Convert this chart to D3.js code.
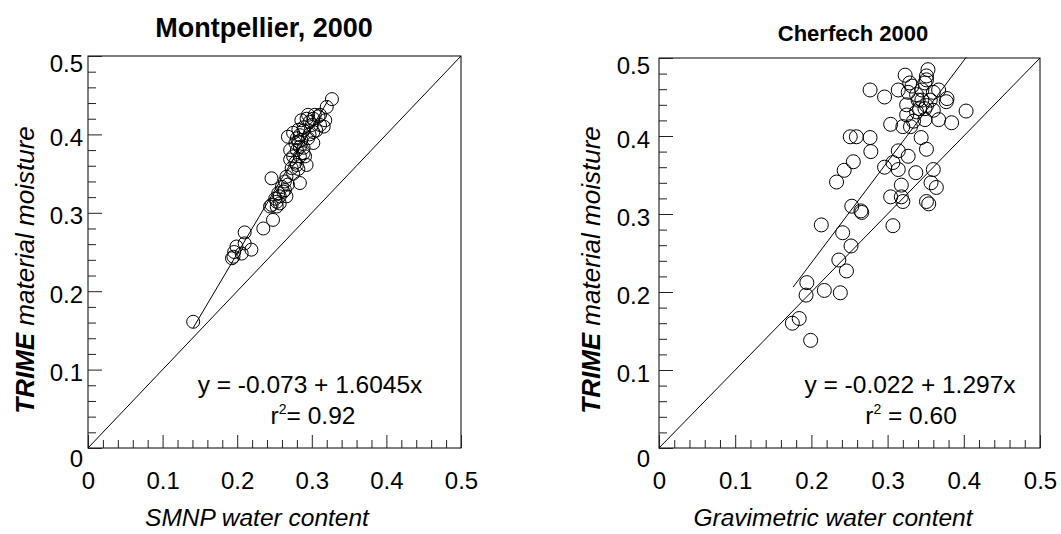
<!DOCTYPE html>
<html lang='en'>
	<head>
		<meta charset='utf-8'>
		<title>TRIME vs water content</title>
		<script type='text/javascript' src='https://d3js.org/d3.v7.min.js'></script>
		<style type='text/css'>
			body {
				margin: 0;
				background-color: white;
			}
			svg text {
				font-family: 'Liberation Sans', Arial, sans-serif;
				fill: black;
			}
		</style>
	</head>
	<body>
		<script type='text/javascript'>
			// Montpellier, 2000 : SMNP water content vs TRIME moisture
			var montX = [0.141, 0.193, 0.196, 0.199, 0.210, 0.210, 0.219, 0.206, 0.195, 0.235, 0.248, 0.246,
				0.253, 0.257, 0.262, 0.260, 0.266, 0.246, 0.264, 0.284, 0.275, 0.273, 0.280, 0.284, 0.280,
				0.289, 0.268, 0.275, 0.282, 0.286, 0.293, 0.302, 0.309, 0.316, 0.297, 0.302, 0.311, 0.320,
				0.327, 0.291, 0.293, 0.286, 0.271, 0.278, 0.306, 0.300, 0.297, 0.289, 0.284, 0.282, 0.275,
				0.271, 0.264, 0.255, 0.253, 0.257, 0.268, 0.318, 0.304, 0.311, 0.295, 0.280, 0.289, 0.302,
				0.295, 0.284, 0.289, 0.278, 0.282, 0.266, 0.251, 0.244];
			var montY = [0.161, 0.242, 0.250, 0.257, 0.261, 0.275, 0.253, 0.248, 0.244, 0.280, 0.291, 0.310,
				0.314, 0.321, 0.327, 0.333, 0.321, 0.344, 0.340, 0.338, 0.350, 0.357, 0.361, 0.372, 0.380,
				0.383, 0.397, 0.402, 0.406, 0.418, 0.420, 0.420, 0.423, 0.410, 0.400, 0.389, 0.412, 0.435,
				0.445, 0.372, 0.361, 0.393, 0.380, 0.389, 0.405, 0.412, 0.416, 0.405, 0.399, 0.391, 0.372,
				0.368, 0.329, 0.325, 0.308, 0.312, 0.336, 0.418, 0.425, 0.425, 0.425, 0.395, 0.409, 0.403,
				0.395, 0.384, 0.376, 0.364, 0.356, 0.346, 0.318, 0.308];

			// Cherfech 2000 : gravimetric water content vs TRIME moisture
			var cherX = [0.175, 0.184, 0.199, 0.194, 0.193, 0.217, 0.238, 0.236, 0.246, 0.252, 0.241, 0.213,
				0.253, 0.265, 0.266, 0.233, 0.243, 0.255, 0.251, 0.259, 0.277, 0.278, 0.296, 0.307, 0.314,
				0.327, 0.314, 0.304, 0.318, 0.318, 0.320, 0.307, 0.337, 0.344, 0.351, 0.360, 0.357, 0.364,
				0.351, 0.354, 0.277, 0.296, 0.304, 0.314, 0.323, 0.329, 0.327, 0.325, 0.325, 0.320, 0.330,
				0.340, 0.345, 0.338, 0.349, 0.351, 0.353, 0.351, 0.349, 0.360, 0.367, 0.378, 0.377, 0.367,
				0.384, 0.403, 0.349, 0.342, 0.345, 0.332, 0.338, 0.356, 0.360, 0.334, 0.351];
			var cherY = [0.160, 0.166, 0.138, 0.212, 0.196, 0.202, 0.199, 0.241, 0.227, 0.259, 0.276, 0.286,
				0.310, 0.304, 0.302, 0.341, 0.356, 0.367, 0.399, 0.399, 0.398, 0.380, 0.360, 0.366, 0.381,
				0.374, 0.357, 0.322, 0.337, 0.322, 0.316, 0.285, 0.353, 0.398, 0.383, 0.357, 0.340, 0.334,
				0.316, 0.313, 0.459, 0.450, 0.415, 0.459, 0.478, 0.468, 0.456, 0.440, 0.427, 0.412, 0.412,
				0.446, 0.459, 0.431, 0.435, 0.472, 0.485, 0.477, 0.468, 0.456, 0.459, 0.448, 0.444, 0.421,
				0.417, 0.432, 0.421, 0.435, 0.446, 0.464, 0.453, 0.446, 0.433, 0.419, 0.439];

			// axis ticks
			var majorTicks = [0, 0.1, 0.2, 0.3, 0.4, 0.5];
			var minorTicks = [0.02, 0.04, 0.06, 0.08, 0.12, 0.14, 0.16, 0.18, 0.22, 0.24, 0.26, 0.28,
				0.32, 0.34, 0.36, 0.38, 0.42, 0.44, 0.46, 0.48];
			var tickLabels = ['0', '0.1', '0.2', '0.3', '0.4', '0.5'];

			// fitted lines: intercept, slope, x range
			var montFit = { a: -0.073, b: 1.6045, x0: 0.141, x1: 0.322 };
			var cherFit = { a: -0.022, b: 1.297, x0: 0.176, x1: 0.403 };

			var w = 1061;
			var h = 534;

			var svg = d3.select('body')
						.append('svg')
						.attr('width', w)
						.attr('height', h);

			svg.append('rect')
				.attr('width', w)
				.attr('height', h)
				.attr('fill', 'white');

			var panels = [
				{
					left: 88, right: 461, top: 56, bottom: 448,
					xs: montX, ys: montY, fit: montFit, r: 6.5,
					title: 'Montpellier, 2000', titleX: 264, titleY: 37, titleSize: 27,
					xLabel: 'SMNP water content', xLabelX: 257,
					yLabelX: 34, labelGap: 5,
					eq: 'y = -0.073 + 1.6045x', eqX: 310, r2: '= 0.92', r2X: 313
				},
				{
					left: 659, right: 1040, top: 58, bottom: 448,
					xs: cherX, ys: cherY, fit: cherFit, r: 7,
					title: 'Cherfech 2000', titleX: 853, titleY: 41, titleSize: 22,
					xLabel: 'Gravimetric water content', xLabelX: 833,
					yLabelX: 600, labelGap: 9,
					eq: 'y = -0.022 + 1.297x', eqX: 910, r2: ' = 0.60', r2X: 911
				}
			];

			panels.forEach(function(p) {
				var xScale = d3.scaleLinear()
								.domain([0, 0.5])
								.range([p.left, p.right]);
				var yScale = d3.scaleLinear()
								.domain([0, 0.5])
								.range([p.bottom, p.top]);

				var g = svg.append('g');

				// frame
				g.append('rect')
					.attr('x', p.left)
					.attr('y', p.top)
					.attr('width', p.right - p.left)
					.attr('height', p.bottom - p.top)
					.attr('fill', 'none')
					.attr('stroke', 'black')
					.attr('stroke-width', 1);

				// minor ticks (inside the frame)
				g.append('g')
					.attr('transform', 'translate(' + p.left + ',0)')
					.call(d3.axisLeft(yScale).tickValues(minorTicks).tickSize(-8).tickFormat(''));
				g.append('g')
					.attr('transform', 'translate(0,' + p.bottom + ')')
					.call(d3.axisBottom(xScale).tickValues(minorTicks).tickSize(-8).tickFormat(''));

				// major ticks + labels
				var yAxis = g.append('g')
					.attr('transform', 'translate(' + p.left + ',0)')
					.call(d3.axisLeft(yScale)
						.tickValues(majorTicks)
						.tickSize(-14)
						.tickPadding(p.labelGap)
						.tickFormat(function(d, i) { return tickLabels[i]; }));
				yAxis.selectAll('text')
					.attr('dy', function(d) {
						if (d === 0) return 10 + 8;
						if (d === 0.5) return 7 + 8;
						return 3 + 8;
					});

				var xAxis = g.append('g')
					.attr('transform', 'translate(0,' + p.bottom + ')')
					.call(d3.axisBottom(xScale)
						.tickValues(majorTicks)
						.tickSize(-13)
						.tickFormat(function(d, i) { return tickLabels[i]; }));
				xAxis.selectAll('text')
					.attr('y', 24)
					.attr('dy', '0.71em');

				g.selectAll('.domain').remove();
				g.selectAll('.tick line').attr('stroke', '#222');
				g.selectAll('.tick text')
					.attr('font-size', 24)
					.attr('font-family', "'Liberation Sans', Arial, sans-serif")
					.attr('fill', 'black');

				// 1:1 line
				g.append('line')
					.attr('x1', xScale(0))
					.attr('y1', yScale(0))
					.attr('x2', xScale(0.5))
					.attr('y2', yScale(0.5))
					.attr('stroke', 'black')
					.attr('stroke-width', 1);

				// regression line
				g.append('line')
					.attr('x1', xScale(p.fit.x0))
					.attr('y1', yScale(p.fit.a + p.fit.b * p.fit.x0))
					.attr('x2', xScale(p.fit.x1))
					.attr('y2', yScale(p.fit.a + p.fit.b * p.fit.x1))
					.attr('stroke', 'black')
					.attr('stroke-width', 1);

				// points
				g.selectAll('circle')
					.data(d3.range(p.xs.length))
					.enter()
					.append('circle')
					.attr('cx', function(i) { return xScale(p.xs[i]); })
					.attr('cy', function(i) { return yScale(p.ys[i]); })
					.attr('r', p.r)
					.attr('fill', 'none')
					.attr('stroke', 'black')
					.attr('stroke-width', 1);

				// title
				g.append('text')
					.attr('x', p.titleX)
					.attr('y', p.titleY)
					.attr('text-anchor', 'middle')
					.attr('font-weight', 'bold')
					.attr('font-size', p.titleSize)
					.text(p.title);

				// x label
				g.append('text')
					.attr('x', p.xLabelX)
					.attr('y', 526)
					.attr('text-anchor', 'middle')
					.attr('font-style', 'italic')
					.attr('font-size', 24.5)
					.text(p.xLabel);

				// y label
				var yl = g.append('text')
					.attr('transform', 'translate(' + p.yLabelX + ',270) rotate(-90)')
					.attr('text-anchor', 'middle')
					.attr('font-style', 'italic')
					.attr('font-size', 26);
				yl.append('tspan').attr('font-weight', 'bold').text('TRIME');
				yl.append('tspan').text(' material moisture');

				// equation
				g.append('text')
					.attr('x', p.eqX)
					.attr('y', 393)
					.attr('text-anchor', 'middle')
					.attr('font-size', 24.5)
					.text(p.eq);

				var r2 = g.append('text')
					.attr('x', p.r2X)
					.attr('y', 424)
					.attr('text-anchor', 'middle')
					.attr('font-size', 24.5);
				r2.append('tspan').text('r');
				r2.append('tspan').attr('font-size', 14).attr('dy', -10).text('2');
				r2.append('tspan').attr('dy', 10).text(p.r2);
			});
		</script>
	</body>
</html>
